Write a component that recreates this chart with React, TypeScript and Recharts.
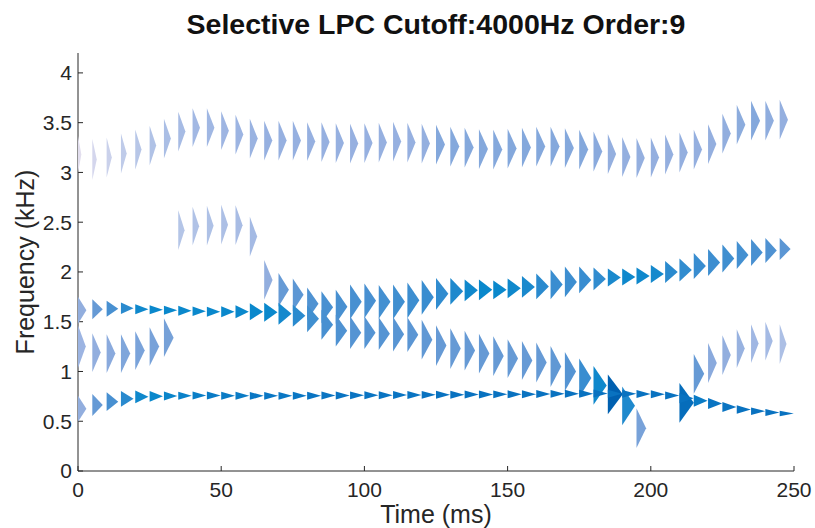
import React from 'react'
import * as Recharts from 'recharts'
import { ScatterChart, Scatter, XAxis, YAxis } from 'recharts'

// one row per frame: [time (ms), centre (kHz), bandwidth (kHz), strength 0..1]
type Frame = [number, number, number, number]

const timeTicks = [0, 50, 100, 150, 200, 250]
const freqTicks = [0, 0.5, 1, 1.5, 2, 2.5, 3, 3.5, 4]
const freqMax = 4.2

const firstTrack: Frame[] = [
  [0, 0.625, 0.26, 0.45], [5, 0.663, 0.22, 0.62], [10, 0.697, 0.19, 0.72], [15, 0.725, 0.16, 0.8],
  [20, 0.745, 0.13, 0.85], [25, 0.75, 0.11, 0.86], [30, 0.754, 0.09, 0.87], [35, 0.757, 0.08, 0.88],
  [40, 0.758, 0.08, 0.89], [45, 0.758, 0.08, 0.9], [50, 0.757, 0.08, 0.9], [55, 0.756, 0.08, 0.9],
  [60, 0.755, 0.08, 0.91], [65, 0.755, 0.08, 0.91], [70, 0.755, 0.08, 0.91], [75, 0.756, 0.08, 0.91],
  [80, 0.757, 0.08, 0.92], [85, 0.758, 0.08, 0.92], [90, 0.759, 0.08, 0.92], [95, 0.76, 0.08, 0.92],
  [100, 0.761, 0.08, 0.92], [105, 0.762, 0.08, 0.92], [110, 0.763, 0.08, 0.92], [115, 0.764, 0.08, 0.92],
  [120, 0.765, 0.08, 0.93], [125, 0.766, 0.08, 0.93], [130, 0.767, 0.08, 0.93], [135, 0.768, 0.08, 0.93],
  [140, 0.769, 0.08, 0.93], [145, 0.77, 0.08, 0.93], [150, 0.771, 0.08, 0.93], [155, 0.772, 0.08, 0.93],
  [160, 0.774, 0.08, 0.93], [165, 0.775, 0.08, 0.93], [170, 0.776, 0.08, 0.93], [175, 0.777, 0.08, 0.93],
  [180, 0.778, 0.08, 0.93], [185, 0.776, 0.08, 0.93], [190, 0.775, 0.08, 0.93], [195, 0.773, 0.08, 0.93],
  [200, 0.772, 0.08, 0.93], [205, 0.759, 0.08, 0.93], [210, 0.73, 0.1, 0.93], [215, 0.705, 0.12, 0.9],
  [220, 0.678, 0.11, 0.92], [225, 0.644, 0.1, 0.92], [230, 0.618, 0.085, 0.93], [235, 0.601, 0.075, 0.93],
  [240, 0.588, 0.07, 0.93], [245, 0.578, 0.055, 0.93]
]

const lowLeftTrack: Frame[] = [
  [0, 1.25, 0.43, 0.4], [5, 1.19, 0.39, 0.45], [10, 1.18, 0.39, 0.48], [15, 1.18, 0.39, 0.52],
  [20, 1.21, 0.39, 0.54], [25, 1.25, 0.39, 0.55], [30, 1.34, 0.39, 0.56]
]

const fallingTrack: Frame[] = [
  [0, 1.615, 0.27, 0.45], [5, 1.625, 0.2, 0.62], [10, 1.63, 0.16, 0.72], [15, 1.635, 0.115, 0.8],
  [20, 1.625, 0.1, 0.85], [25, 1.62, 0.09, 0.86], [30, 1.615, 0.09, 0.86], [35, 1.61, 0.1, 0.86],
  [40, 1.605, 0.095, 0.86], [45, 1.6, 0.1, 0.86], [50, 1.6, 0.11, 0.86], [55, 1.6, 0.13, 0.86],
  [60, 1.6, 0.17, 0.86], [65, 1.595, 0.19, 0.86], [70, 1.58, 0.22, 0.84], [75, 1.56, 0.22, 0.8],
  [80, 1.53, 0.27, 0.74], [85, 1.47, 0.3, 0.72], [90, 1.41, 0.32, 0.7], [95, 1.39, 0.33, 0.68],
  [100, 1.39, 0.33, 0.68], [105, 1.38, 0.33, 0.68], [110, 1.375, 0.35, 0.67], [115, 1.37, 0.35, 0.66],
  [120, 1.32, 0.4, 0.64], [125, 1.26, 0.41, 0.62], [130, 1.23, 0.41, 0.62], [135, 1.21, 0.4, 0.62],
  [140, 1.18, 0.4, 0.62], [145, 1.155, 0.4, 0.62], [150, 1.13, 0.39, 0.62], [155, 1.11, 0.39, 0.62],
  [160, 1.09, 0.4, 0.62], [165, 1.05, 0.41, 0.64], [170, 1.0, 0.39, 0.68], [175, 0.935, 0.39, 0.76],
  [180, 0.86, 0.39, 0.85], [185, 0.77, 0.4, 1.0], [190, 0.655, 0.39, 0.82], [195, 0.43, 0.4, 0.55]
]

const risingTrack: Frame[] = [
  [35, 2.42, 0.4, 0.28], [40, 2.46, 0.39, 0.3], [45, 2.465, 0.4, 0.31], [50, 2.475, 0.4, 0.32],
  [55, 2.47, 0.4, 0.34], [60, 2.355, 0.4, 0.36], [65, 1.92, 0.4, 0.45], [70, 1.82, 0.34, 0.62],
  [75, 1.77, 0.33, 0.65], [80, 1.68, 0.33, 0.7], [85, 1.645, 0.32, 0.72], [90, 1.65, 0.34, 0.72],
  [95, 1.7, 0.35, 0.72], [100, 1.71, 0.35, 0.72], [105, 1.7, 0.34, 0.73], [110, 1.7, 0.35, 0.74],
  [115, 1.715, 0.36, 0.75], [120, 1.745, 0.35, 0.76], [125, 1.78, 0.32, 0.78], [130, 1.805, 0.27, 0.82],
  [135, 1.815, 0.22, 0.85], [140, 1.82, 0.21, 0.86], [145, 1.82, 0.19, 0.86], [150, 1.835, 0.2, 0.85],
  [155, 1.85, 0.22, 0.83], [160, 1.855, 0.26, 0.8], [165, 1.875, 0.3, 0.76], [170, 1.9, 0.31, 0.75],
  [175, 1.92, 0.27, 0.76], [180, 1.93, 0.23, 0.78], [185, 1.945, 0.18, 0.83], [190, 1.95, 0.17, 0.85],
  [195, 1.96, 0.17, 0.85], [200, 1.98, 0.18, 0.84], [205, 2.0, 0.22, 0.8], [210, 2.02, 0.23, 0.78],
  [215, 2.06, 0.26, 0.76], [220, 2.095, 0.27, 0.75], [225, 2.135, 0.28, 0.74], [230, 2.17, 0.28, 0.73],
  [235, 2.195, 0.27, 0.72], [240, 2.215, 0.25, 0.7], [245, 2.23, 0.22, 0.66]
]

const lateTrack: Frame[] = [
  [210, 0.685, 0.4, 0.95], [215, 0.976, 0.4, 0.62], [220, 1.085, 0.4, 0.48], [225, 1.165, 0.4, 0.45],
  [230, 1.23, 0.39, 0.42], [235, 1.28, 0.39, 0.38], [240, 1.305, 0.39, 0.36], [245, 1.275, 0.4, 0.32]
]

const topTrack: Frame[] = [
  [0, 3.18, 0.37, 0.03], [5, 3.13, 0.41, 0.12], [10, 3.15, 0.4, 0.18], [15, 3.19, 0.4, 0.23],
  [20, 3.23, 0.4, 0.27], [25, 3.27, 0.4, 0.3], [30, 3.34, 0.4, 0.33], [35, 3.41, 0.4, 0.35],
  [40, 3.45, 0.39, 0.37], [45, 3.45, 0.39, 0.38], [50, 3.42, 0.39, 0.39], [55, 3.38, 0.4, 0.4],
  [60, 3.34, 0.4, 0.41], [65, 3.32, 0.4, 0.43], [70, 3.32, 0.4, 0.43], [75, 3.32, 0.4, 0.43],
  [80, 3.31, 0.39, 0.43], [85, 3.305, 0.4, 0.43], [90, 3.295, 0.4, 0.43], [95, 3.29, 0.4, 0.43],
  [100, 3.295, 0.4, 0.43], [105, 3.3, 0.4, 0.43], [110, 3.31, 0.4, 0.43], [115, 3.3, 0.4, 0.43],
  [120, 3.29, 0.4, 0.44], [125, 3.28, 0.4, 0.5], [130, 3.26, 0.4, 0.5], [135, 3.25, 0.4, 0.5],
  [140, 3.235, 0.4, 0.5], [145, 3.23, 0.4, 0.5], [150, 3.24, 0.4, 0.5], [155, 3.25, 0.4, 0.5],
  [160, 3.26, 0.4, 0.5], [165, 3.26, 0.4, 0.5], [170, 3.245, 0.4, 0.5], [175, 3.23, 0.4, 0.5],
  [180, 3.21, 0.4, 0.48], [185, 3.185, 0.4, 0.44], [190, 3.155, 0.4, 0.44], [195, 3.145, 0.4, 0.44],
  [200, 3.15, 0.4, 0.44], [205, 3.18, 0.4, 0.44], [210, 3.2, 0.4, 0.44], [215, 3.23, 0.4, 0.44],
  [220, 3.285, 0.4, 0.44], [225, 3.39, 0.4, 0.45], [230, 3.48, 0.4, 0.47], [235, 3.52, 0.4, 0.5],
  [240, 3.52, 0.4, 0.46], [245, 3.53, 0.4, 0.44]
]

const tracks = [topTrack, risingTrack, lowLeftTrack, lateTrack, fallingTrack, firstTrack]

// strength -> colour, light lavender through to deep blue
const shadeStops: [number, number[]][] = [
  [0, [230, 224, 238]],
  [0.1, [216, 216, 238]],
  [0.2, [198, 207, 234]],
  [0.3, [176, 194, 230]],
  [0.4, [156, 180, 226]],
  [0.45, [146, 174, 222]],
  [0.5, [132, 168, 220]],
  [0.6, [108, 156, 214]],
  [0.7, [79, 146, 210]],
  [0.8, [42, 138, 206]],
  [0.86, [10, 136, 204]],
  [0.92, [10, 116, 194]],
  [1, [0, 96, 176]]
]

function shade (level: number) {
  for (let i = 1; i < shadeStops.length; i++) {
    const [l1, c1] = shadeStops[i]
    const [l0, c0] = shadeStops[i - 1]
    if (level <= l1) {
      const k = (level - l0) / (l1 - l0)
      const c = c0.map((v, j) => Math.round(v + (c1[j] - v) * k))
      return `rgb(${c[0]},${c[1]},${c[2]})`
    }
  }
  return 'rgb(0,96,176)'
}

const R = Recharts as any
const CHART_W = 815
const CHART_H = 528
const margin = { top: 53, right: 21, bottom: 0, left: 0 }
const xAxisHeight = 57
const yAxisWidth = 78

function usePlot () {
  if (R.usePlotArea) return R.usePlotArea()
  return {
    x: yAxisWidth,
    y: margin.top,
    width: CHART_W - yAxisWidth - margin.right,
    height: CHART_H - margin.top - xAxisHeight
  }
}

function Wedge (props: any) {
  const plot = usePlot()
  const { cx, cy, payload } = props
  if (cx == null || cy == null || !plot) return null
  const h = (payload.bw * plot.height) / freqMax
  const w = 3 + 12 * payload.level
  const pts = `${cx},${cy - h / 2} ${cx + w},${cy} ${cx},${cy + h / 2}`
  return <polygon points={pts} fill={shade(payload.level)} />
}

const axisColor = '#262626'
const fontFamily = '"Liberation Sans", Arial, sans-serif'
const tickFont = { fontSize: 21, fill: axisColor, fontFamily }

export default function App () {
  return (
    <div style={{ position: 'absolute', left: 0, top: 0, width: CHART_W, height: CHART_H, background: '#fff' }}>
      <div
        style={{
          position: 'absolute',
          top: 10,
          left: 0,
          width: 872,
          textAlign: 'center',
          fontFamily,
          fontWeight: 'bold',
          fontSize: 28.5,
          lineHeight: '28.5px',
          color: '#111'
        }}
      >
        Selective LPC Cutoff:4000Hz Order:9
      </div>
      <ScatterChart width={CHART_W} height={CHART_H} margin={margin}>
        <XAxis
          type="number"
          dataKey="t"
          domain={[0, 250]}
          ticks={timeTicks}
          height={xAxisHeight}
          tickSize={-5}
          tickMargin={16}
          stroke={axisColor}
          tick={tickFont}
          label={{ value: 'Time (ms)', position: 'insideBottom', offset: 5, fontSize: 25, fill: axisColor, fontFamily }}
        />
        <YAxis
          type="number"
          dataKey="f"
          domain={[0, freqMax]}
          ticks={freqTicks}
          width={yAxisWidth}
          tickSize={-5}
          tickMargin={11}
          stroke={axisColor}
          tick={tickFont}
          label={{ value: 'Frequency (kHz)', angle: -90, position: 'center', dx: -14, fontSize: 25, fill: axisColor, fontFamily }}
        />
        {tracks.map((rows, i) => (
          <Scatter
            key={i}
            data={rows.map(([t, f, bw, level]) => ({ t, f, bw, level }))}
            shape={(p: any) => <Wedge {...p} />}
            isAnimationActive={false}
          />
        ))}
      </ScatterChart>
    </div>
  )
}
